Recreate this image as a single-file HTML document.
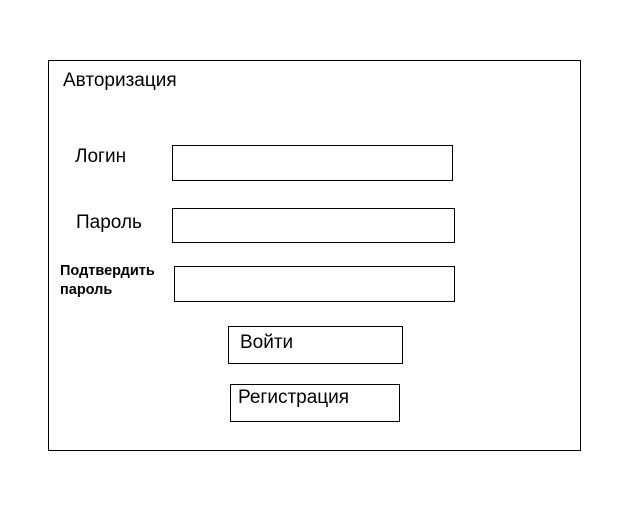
<!DOCTYPE html>
<html><head><meta charset="utf-8"><style>html,body{margin:0;padding:0;background:#fff}</style></head><body>
<svg width="640" height="512" xmlns="http://www.w3.org/2000/svg" font-family="Liberation Sans, Arial, sans-serif" fill="none" stroke="#000" stroke-width="1">
<rect x="48.5" y="60.5" width="532" height="390"/>
<rect x="172.5" y="145.5" width="280" height="35"/>
<rect x="172.5" y="208.5" width="282" height="34"/>
<rect x="174.5" y="266.5" width="280" height="35"/>
<rect x="228.5" y="326.5" width="174" height="37"/>
<rect x="230.5" y="384.5" width="169" height="37"/>
<g fill="#000" stroke="none" font-size="19">
<text x="63" y="86">Авторизация</text>
<text x="75" y="162">Логин</text>
<text x="76" y="228">Пароль</text>
<text x="240" y="348">Войти</text>
<text x="238" y="403">Регистрация</text>
<text x="60" y="275" font-size="14.5" font-weight="bold">Подтвердить</text>
<text x="60" y="294" font-size="14.5" font-weight="bold">пароль</text>
</g>
</svg>
</body></html>
